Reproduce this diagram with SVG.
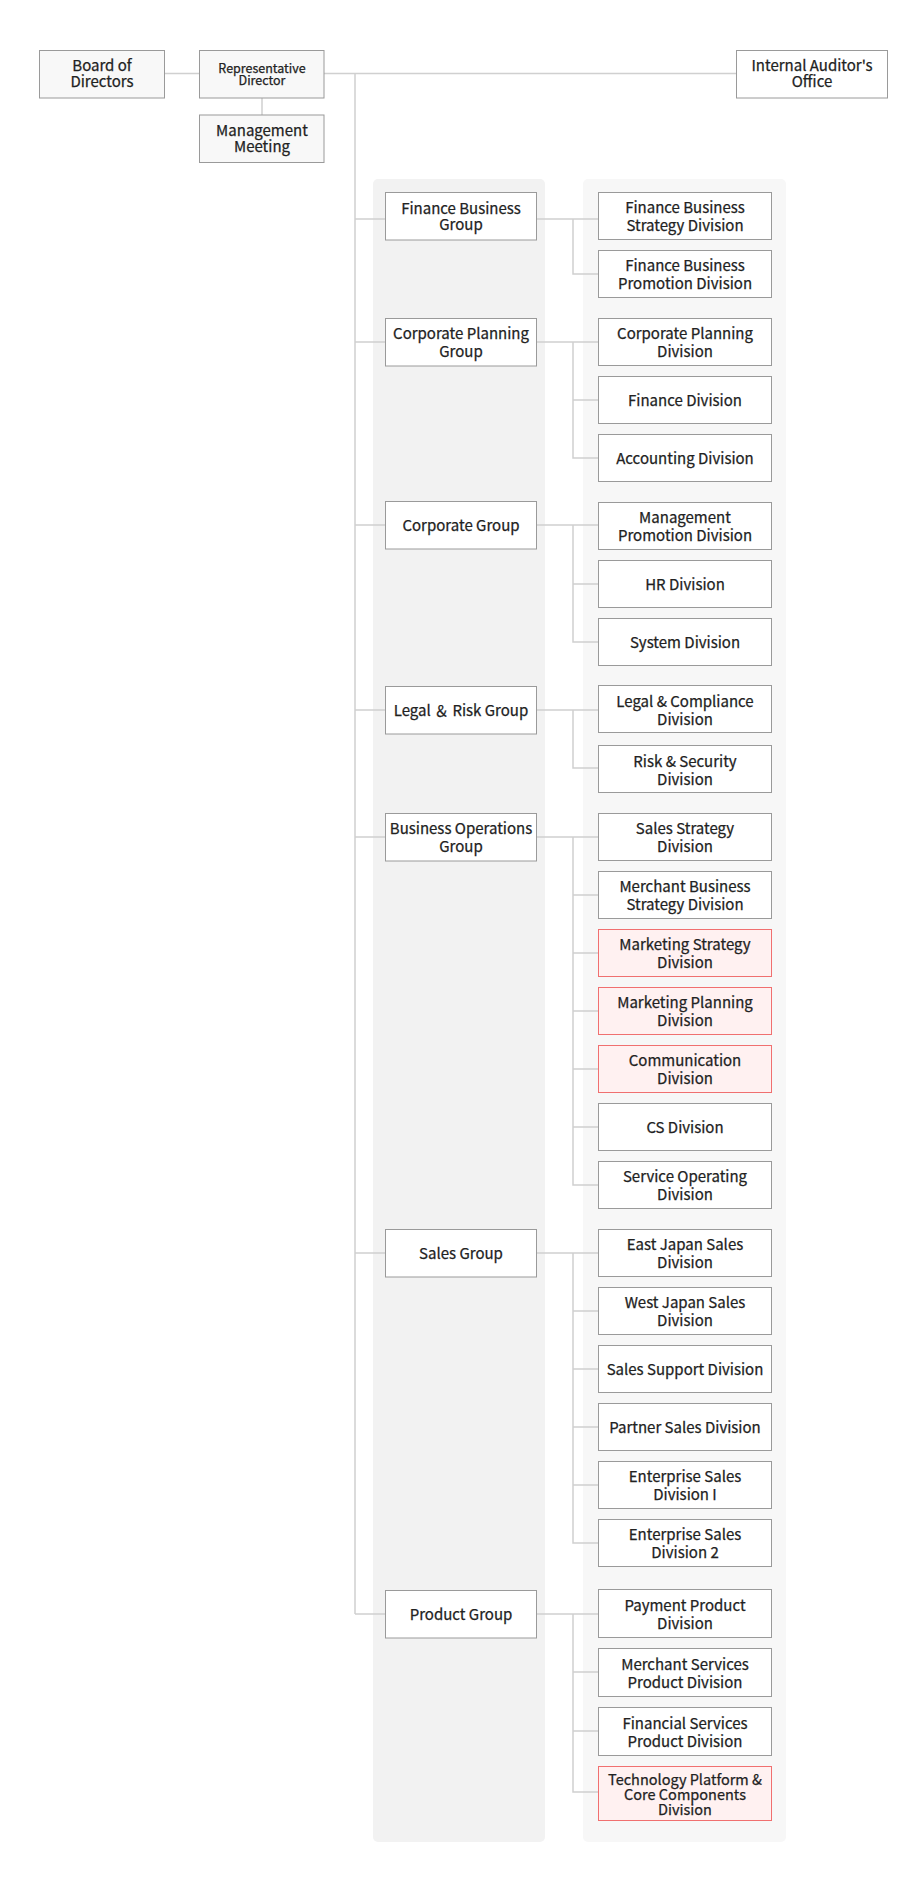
<svg xmlns="http://www.w3.org/2000/svg" width="918" height="1891" viewBox="0 0 918 1891">
<style>
.bg{fill:#ffffff}
.pl{fill:#f2f2f2}
.pr{fill:#f7f7f7}
.box{fill:#ffffff;stroke:#9a9a9a;stroke-width:1}
.top{fill:#f8f8f8;stroke:#9a9a9a;stroke-width:1}
.hl{fill:#fff1f1;stroke:#f07070;stroke-width:1}
.ln{fill:none;stroke:#d0d0d0;stroke-width:1.5}
text{font-family:"Noto Sans CJK JP","Noto Sans",sans-serif;font-size:15px;fill:#222222;stroke:#222222;stroke-width:0.25;text-anchor:middle}
.sm{font-size:12.5px}
.tt{font-size:14.5px}
</style>
<rect class="bg" x="0" y="0" width="918" height="1891"/>
<rect class="pl" x="373" y="179" width="172" height="1663" rx="5"/>
<rect class="pr" x="583" y="179" width="203" height="1663" rx="5"/>
<g id="connectors">
<path class="ln" d="M164.5 73.5H199.5M262 98V115M324 73.5H736.5M355 73.5V1614"/>
<path class="ln" d="M355 219H385.5M536.5 219H598.5M573 219V274H598.5"/>
<path class="ln" d="M355 342H385.5M536.5 342H598.5M573 342V458H598.5M573 400H598.5"/>
<path class="ln" d="M355 525H385.5M536.5 525H598.5M573 525V642H598.5M573 584H598.5"/>
<path class="ln" d="M355 710H385.5M536.5 710H598.5M573 710V768H598.5"/>
<path class="ln" d="M355 837H385.5M536.5 837H598.5M573 837V1185H598.5M573 895H598.5M573 953H598.5M573 1011H598.5M573 1069H598.5M573 1127H598.5"/>
<path class="ln" d="M355 1253H385.5M536.5 1253H598.5M573 1253V1543H598.5M573 1311H598.5M573 1369H598.5M573 1427H598.5M573 1485H598.5"/>
<path class="ln" d="M355 1614H385.5M536.5 1614H598.5M573 1614V1792H598.5M573 1672H598.5M573 1731H598.5"/>
</g>
<g id="board"><rect class="top" x="39.5" y="50.5" width="125" height="47.5"/><text x="102" y="70.5">Board of</text><text x="102" y="86.5">Directors</text></g>
<g id="rep"><rect class="top" x="199.5" y="50.5" width="124.5" height="47.5"/><text class="sm" x="262" y="72.5">Representative</text><text class="sm" x="262" y="84.5">Director</text></g>
<g id="mgmt"><rect class="top" x="199.5" y="115" width="124.5" height="47.5"/><text x="262" y="136">Management</text><text x="262" y="152">Meeting</text></g>
<g id="auditor"><rect class="box" x="736.5" y="50.5" width="151" height="47.5"/><text x="812" y="70.5">Internal Auditor's</text><text x="812" y="86.5">Office</text></g>

<g id="g-finance"><rect class="box" x="385.5" y="192.5" width="151" height="47.5"/><text x="461" y="214">Finance Business</text><text x="461" y="230">Group</text></g>
<g id="g-corpplan"><rect class="box" x="385.5" y="318.5" width="151" height="47.5"/><text x="461" y="339">Corporate Planning</text><text x="461" y="357">Group</text></g>
<g id="g-corp"><rect class="box" x="385.5" y="501.5" width="151" height="47.5"/><text x="461" y="530.5">Corporate Group</text></g>
<g id="g-legal"><rect class="box" x="385.5" y="686.5" width="151" height="47.5"/><text x="461" y="715.5">Legal ＆ Risk Group</text></g>
<g id="g-bizops"><rect class="box" x="385.5" y="813.5" width="151" height="47.5"/><text x="461" y="834">Business Operations</text><text x="461" y="852">Group</text></g>
<g id="g-sales"><rect class="box" x="385.5" y="1229.5" width="151" height="47.5"/><text x="461" y="1258.5">Sales Group</text></g>
<g id="g-product"><rect class="box" x="385.5" y="1590.5" width="151" height="47.5"/><text x="461" y="1619.5">Product Group</text></g>

<g id="d-fbs"><rect class="box" x="598.5" y="192.5" width="173" height="47"/><text x="685" y="213">Finance Business</text><text x="685" y="231">Strategy Division</text></g>
<g id="d-fbp"><rect class="box" x="598.5" y="250.5" width="173" height="47"/><text x="685" y="271">Finance Business</text><text x="685" y="289">Promotion Division</text></g>
<g id="d-cpd"><rect class="box" x="598.5" y="318.5" width="173" height="47"/><text x="685" y="339">Corporate Planning</text><text x="685" y="357">Division</text></g>
<g id="d-fin"><rect class="box" x="598.5" y="376.5" width="173" height="47"/><text x="685" y="405.5">Finance Division</text></g>
<g id="d-acc"><rect class="box" x="598.5" y="434.5" width="173" height="47"/><text x="685" y="463.5">Accounting Division</text></g>
<g id="d-mpd"><rect class="box" x="598.5" y="502.5" width="173" height="47"/><text x="685" y="523">Management</text><text x="685" y="541">Promotion Division</text></g>
<g id="d-hr"><rect class="box" x="598.5" y="560.5" width="173" height="47"/><text x="685" y="589.5">HR Division</text></g>
<g id="d-sys"><rect class="box" x="598.5" y="618.5" width="173" height="47"/><text x="685" y="647.5">System Division</text></g>
<g id="d-lc"><rect class="box" x="598.5" y="685.5" width="173" height="47"/><text x="685" y="707">Legal &amp; Compliance</text><text x="685" y="725">Division</text></g>
<g id="d-rs"><rect class="box" x="598.5" y="745.5" width="173" height="47"/><text x="685" y="767">Risk &amp; Security</text><text x="685" y="785">Division</text></g>
<g id="d-ss"><rect class="box" x="598.5" y="813.5" width="173" height="47"/><text x="685" y="834">Sales Strategy</text><text x="685" y="852">Division</text></g>
<g id="d-mbs"><rect class="box" x="598.5" y="871.5" width="173" height="47"/><text x="685" y="892">Merchant Business</text><text x="685" y="910">Strategy Division</text></g>
<g id="d-mks"><rect class="hl" x="598.5" y="929.5" width="173" height="47"/><text x="685" y="950">Marketing Strategy</text><text x="685" y="968">Division</text></g>
<g id="d-mkp"><rect class="hl" x="598.5" y="987.5" width="173" height="47"/><text x="685" y="1008">Marketing Planning</text><text x="685" y="1026">Division</text></g>
<g id="d-com"><rect class="hl" x="598.5" y="1045.5" width="173" height="47"/><text x="685" y="1066">Communication</text><text x="685" y="1084">Division</text></g>
<g id="d-cs"><rect class="box" x="598.5" y="1103.5" width="173" height="47"/><text x="685" y="1132.5">CS Division</text></g>
<g id="d-so"><rect class="box" x="598.5" y="1161.5" width="173" height="47"/><text x="685" y="1182">Service Operating</text><text x="685" y="1200">Division</text></g>
<g id="d-ej"><rect class="box" x="598.5" y="1229.5" width="173" height="47"/><text x="685" y="1250">East Japan Sales</text><text x="685" y="1268">Division</text></g>
<g id="d-wj"><rect class="box" x="598.5" y="1287.5" width="173" height="47"/><text x="685" y="1308">West Japan Sales</text><text x="685" y="1326">Division</text></g>
<g id="d-sup"><rect class="box" x="598.5" y="1345.5" width="173" height="47"/><text x="685" y="1374.5">Sales Support Division</text></g>
<g id="d-ps"><rect class="box" x="598.5" y="1403.5" width="173" height="47"/><text x="685" y="1432.5">Partner Sales Division</text></g>
<g id="d-e1"><rect class="box" x="598.5" y="1461.5" width="173" height="47"/><text x="685" y="1482">Enterprise Sales</text><text x="685" y="1500">Division I</text></g>
<g id="d-e2"><rect class="box" x="598.5" y="1519.5" width="173" height="47"/><text x="685" y="1540">Enterprise Sales</text><text x="685" y="1558">Division 2</text></g>
<g id="d-pp"><rect class="box" x="598.5" y="1589.5" width="173" height="48"/><text x="685" y="1611">Payment Product</text><text x="685" y="1629">Division</text></g>
<g id="d-msp"><rect class="box" x="598.5" y="1648.5" width="173" height="48"/><text x="685" y="1670">Merchant Services</text><text x="685" y="1688">Product Division</text></g>
<g id="d-fsp"><rect class="box" x="598.5" y="1707.5" width="173" height="48"/><text x="685" y="1729">Financial Services</text><text x="685" y="1747">Product Division</text></g>
<g id="d-tech"><rect class="hl" x="598.5" y="1766.5" width="173" height="54"/><text class="tt" x="685" y="1785">Technology Platform &amp;</text><text class="tt" x="685" y="1800">Core Components</text><text class="tt" x="685" y="1815">Division</text></g>
</svg>
